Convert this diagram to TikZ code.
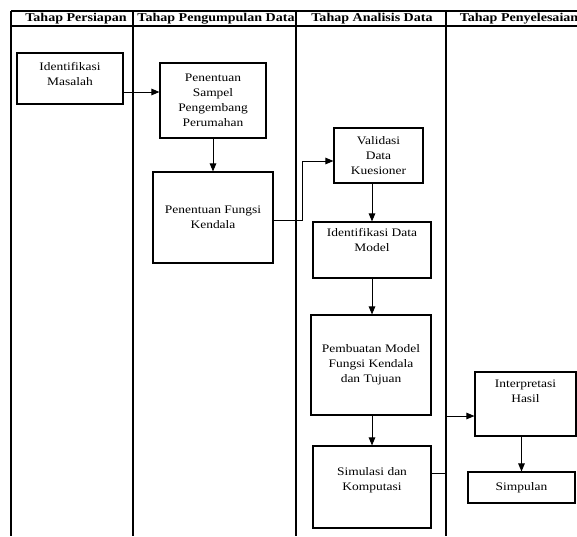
\documentclass[tikz,border=0pt]{standalone}
\usepackage{fontspec}
\setmainfont{Liberation Serif}[FakeStretch=1.17]
\usepackage{tikz}
\usetikzlibrary{arrows.meta,calc}

\newcommand{\boxfont}{\fontsize{11.5}{15}\selectfont}
\newcommand{\headfont}{\fontsize{12}{14}\selectfont\bfseries}

\tikzset{
  box/.style={draw, line width=1.1pt, align=center, inner sep=1pt, font=\boxfont},
  lift/.style={text depth=#1},
  flow/.style={-{Triangle[length=8pt,width=6.5pt]}, line width=1pt},
  lane/.style={line width=1.2pt},
}

\begin{document}
\begin{tikzpicture}[x=1pt, y=-1pt]
\useasboundingbox (0,0) rectangle (577,536);

% Swimlane table: header row and column separators
\draw[lane] (11,11) -- (577,11);
\draw[lane] (11,26) -- (577,26);
\foreach \x in {11,133,296,446}{
  \draw[lane] (\x,11) -- (\x,536);
}
\foreach \x/\name/\txt in {76/persiapan/Tahap Persiapan, 216/pengumpulan/Tahap Pengumpulan Data,
                           372/analisis/Tahap Analisis Data, 519/penyelesaian/Tahap Penyelesaian}{
  \node[font=\headfont, inner sep=0pt] (\name) at (\x,18.5) {\txt};
}

% Tahap Persiapan
\node[box, lift=9pt, minimum width=106pt, minimum height=51pt] (identifikasi) at (70,78.5) {Identifikasi\\Masalah};

% Tahap Pengumpulan Data
\node[box, minimum width=106pt, minimum height=75pt] (sampel) at (213,100.5) {Penentuan\\Sampel\\Pengembang\\Perumahan};
\node[box, minimum width=120pt, minimum height=91pt] (fungsi) at (213,217.5) {Penentuan Fungsi\\Kendala};

% Tahap Analisis Data
\node[box, minimum width=89pt, minimum height=55pt] (validasi) at (378.5,155.5) {Validasi\\Data\\Kuesioner};
\node[box, lift=20pt, minimum width=118pt, minimum height=56pt] (datamodel) at (372,250) {Identifikasi Data\\Model};
\node[box, minimum width=120pt, minimum height=100pt] (pembuatan) at (371,365) {Pembuatan Model\\Fungsi Kendala\\dan Tujuan};
\node[box, lift=17pt, minimum width=118pt, minimum height=82pt] (simulasi) at (372,487) {Simulasi dan\\Komputasi};

% Tahap Penyelesaian
\node[box, lift=26pt, minimum width=101pt, minimum height=64pt] (interpretasi) at (525.5,404) {Interpretasi\\Hasil};
\node[box, minimum width=107pt, minimum height=31pt] (simpulan) at (521.5,487.5) {Simpulan};

% Flow
\draw[flow] ([yshift=-13.5pt]identifikasi.east) coordinate (a1) -- (a1 -| sampel.west);
\draw[flow] (sampel) -- (fungsi);
\draw[flow] ([yshift=-2.5pt]fungsi.east) -- ++(29,0) |- ([yshift=-5.5pt]validasi.west);
\draw[flow] (validasi.south -| datamodel.north) -- (datamodel.north);
\draw[flow] (datamodel.south) -- (datamodel.south |- pembuatan.north);
\draw[flow] (pembuatan.south -| simulasi.north) -- (simulasi.north);
\draw[flow] ([yshift=14pt]simulasi.east) -- ++(14,0) |- ([yshift=-12pt]interpretasi.west);
\draw[flow] (interpretasi.south -| simpulan.north) -- (simpulan.north);

\end{tikzpicture}
\end{document}
